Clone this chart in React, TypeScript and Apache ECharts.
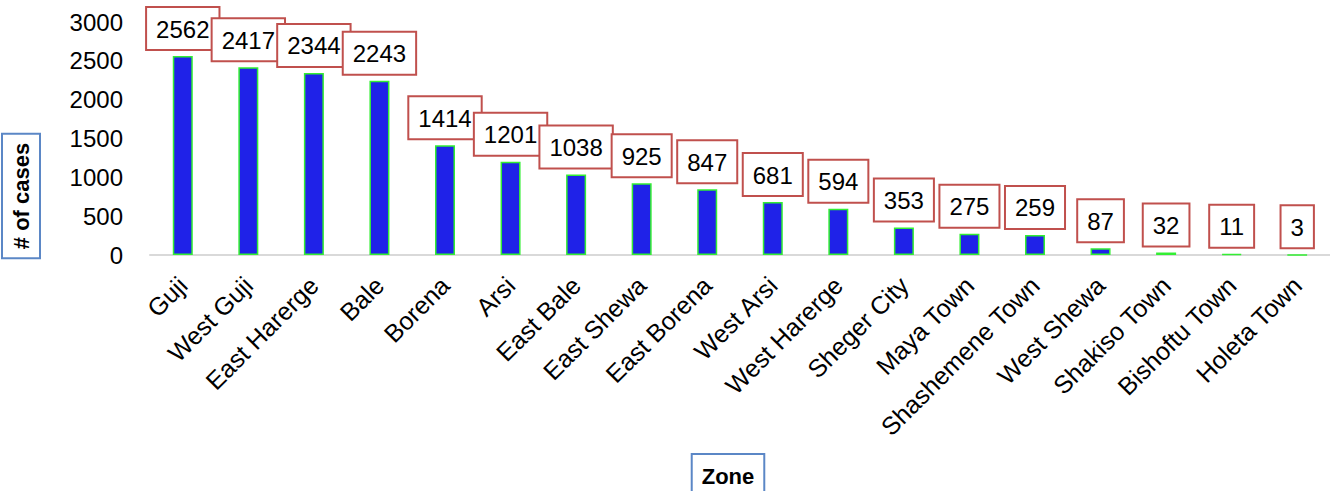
import React, { useEffect, useRef } from "react";
import * as echarts from "echarts";

const zones = [
  "Guji", "West Guji", "East Harerge", "Bale", "Borena", "Arsi", "East Bale",
  "East Shewa", "East Borena", "West Arsi", "West Harerge", "Sheger City",
  "Maya Town", "Shashemene Town", "West Shewa", "Shakiso Town", "Bishoftu Town", "Holeta Town",
];
const cases = [2562, 2417, 2344, 2243, 1414, 1201, 1038, 925, 847, 681, 594, 353, 275, 259, 87, 32, 11, 3];
const yTicks = [0, 500, 1000, 1500, 2000, 2500, 3000];

const FONT = "'Liberation Sans', Arial, sans-serif";

export default function App() {
  const ref = useRef<HTMLDivElement>(null);
  useEffect(() => {
    if (!ref.current) return;
    const chart = echarts.init(ref.current, undefined, { renderer: "svg" });
    chart.setOption({
      animation: false,
      backgroundColor: "#ffffff",
      grid: { left: 150, right: -8, top: 22, bottom: 236, containLabel: false },
      xAxis: {
        type: "category",
        data: zones,
        axisLine: { show: true, lineStyle: { color: "#d9d9d9", width: 2 } },
        axisTick: { show: false },
        axisLabel: {
          rotate: 45,
          interval: 0,
          margin: 26,
          fontSize: 25,
          color: "#000000",
          fontFamily: FONT,
        },
      },
      yAxis: {
        type: "value",
        min: yTicks[0],
        max: yTicks[yTicks.length - 1],
        interval: 500,
        axisLine: { show: false },
        axisTick: { show: false },
        splitLine: { show: false },
        axisLabel: {
          margin: 27,
          fontSize: 24,
          color: "#000000",
          fontFamily: FONT,
          formatter: (v: number) => String(v),
        },
      },
      series: [
        {
          type: "bar",
          data: cases,
          barWidth: 20,
          itemStyle: { color: "#1f22e8", borderColor: "#33ee33", borderWidth: 1.5 },
          label: {
            show: true,
            position: "top",
            distance: 7,
            fontSize: 24,
            color: "#000000",
            fontFamily: FONT,
            backgroundColor: "#ffffff",
            borderColor: "#c0504d",
            borderWidth: 2,
            padding: [9, 9, 8, 9],
          },
        },
      ],
      graphic: [
        {
          type: "text",
          x: 21,
          y: 196,
          rotation: Math.PI / 2,
          style: {
            text: "# of cases",
            fontSize: 22,
            fontWeight: "bold",
            fontFamily: FONT,
            fill: "#000000",
            align: "center",
            verticalAlign: "middle",
            backgroundColor: "#ffffff",
            borderColor: "#5b87c6",
            borderWidth: 2,
            padding: [7, 8, 7, 8],
          },
        },
        {
          type: "text",
          x: 728,
          y: 476,
          style: {
            text: "Zone",
            fontSize: 22,
            fontWeight: "bold",
            fontFamily: FONT,
            fill: "#000000",
            align: "center",
            verticalAlign: "middle",
            backgroundColor: "#ffffff",
            borderColor: "#5b87c6",
            borderWidth: 2,
            padding: [10, 9, 10, 9],
          },
        },
      ],
    });
    return () => chart.dispose();
  }, []);
  return (
    <div
      ref={ref}
      style={{ position: "absolute", left: 0, top: 0, width: 1330, height: 491 }}
    />
  );
}
